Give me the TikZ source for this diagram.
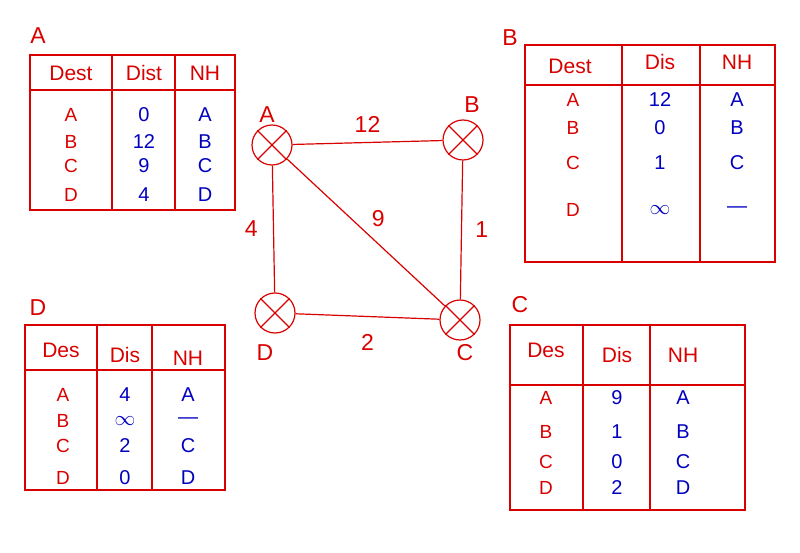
\documentclass[tikz,border=0pt]{standalone}
\usepackage{fontspec}
\setmainfont{Liberation Sans}
\begin{document}
\begin{tikzpicture}[x=1pt,y=-1pt,
  red/.style={draw=red!85!black,line width=1.2pt},
  rt/.style={circle,draw=red!85!black,line width=1.2pt,minimum size=40pt,inner sep=0pt},
  lab/.style={text=red!85!black,font=\fontsize{23}{25}\selectfont},
  hd/.style={text=red!85!black,font=\fontsize{21}{23}\selectfont},
  val/.style={text=blue!75!black,inner sep=0pt,font=\fontsize{20}{22}\selectfont},
  dst/.style={text=red!85!black,inner sep=0pt,font=\fontsize{19}{21}\selectfont}]
\useasboundingbox (0,0) rectangle (800,553);
% routers
\node[rt] (A) at (272,145) {};
\node[rt] (B) at (463,140) {};
\node[rt] (D) at (275,313) {};
\node[rt] (C) at (460,320) {};
\foreach \r in {A,B,C,D}{
  \draw[red] (\r.north west) -- (\r.south east);
  \draw[red] (\r.north east) -- (\r.south west);}
\draw[red] (A) -- (B) node[midway,above=6pt,lab]{12};
\draw[red] (B) -- (C) node[midway,right=10pt,lab]{1};
\draw[red] (A) -- (C) node[pos=0.5,above right=2pt,lab]{9};
\draw[red] (A) -- (D) node[midway,left=12pt,lab]{4};
\draw[red] (D) -- (C) node[midway,below=14pt,lab]{2};
\node[lab] (lA) at (267,115) {A};
\node[lab] (lB) at (472,105) {B};
\node[lab] (lD) at (265,353) {D};
\node[lab] (lC) at (465,353) {C};
% table A
\node[lab] (tA) at (38,36) {A};
\draw[red] (30,55) rectangle (235,210);
\draw[red] (30,90) -- (235,90);
\draw[red] (112,55) -- (112,210); \draw[red] (175,55) -- (175,210);
\node[hd] at (71,73) {Dest}; \node[hd] at (144,73) {Dist}; \node[hd] at (205,73) {NH};
\foreach \d/\v/\n/\y in {A/0/A/115,B/12/B/142,C/9/C/166,D/4/D/195}{
  \node[dst] at (71,\y) {\d}; \node[val] at (144,\y) {\v}; \node[val] at (205,\y) {\n};}
% table B
\node[lab] (tB) at (510,38) {B};
\draw[red] (525,45) rectangle (775,262);
\draw[red] (525,85) -- (775,85);
\draw[red] (622,45) -- (622,262); \draw[red] (700,45) -- (700,262);
\node[hd] at (570,66) {Dest}; \node[hd] at (660,62) {Dis}; \node[hd] at (737,62) {NH};
\foreach \d/\v/\n/\y in {A/12/A/100,B/0/B/128,C/1/C/163,D/$\infty$/---/210}{
  \node[dst] at (573,\y) {\d}; \node[val] at (660,\y) {\v}; \node[val] at (737,\y) {\n};}
% table D
\node[lab] (tD) at (38,308) {D};
\draw[red] (25,325) rectangle (225,490);
\draw[red] (25,370) -- (225,370);
\draw[red] (97,325) -- (97,490); \draw[red] (152,325) -- (152,490);
\node[hd] at (61,350) {Des}; \node[hd] at (125,355) {Dis}; \node[hd] at (188,358) {NH};
\foreach \d/\v/\n/\y in {A/4/A/395,B/$\infty$/---/421,C/2/C/446,D/0/D/478}{
  \node[dst] at (63,\y) {\d}; \node[val] at (125,\y) {\v}; \node[val] at (188,\y) {\n};}
% table C
\node[lab] (tC) at (520,305) {C};
\draw[red] (510,325) rectangle (745,510);
\draw[red] (510,385) -- (745,385);
\draw[red] (583,325) -- (583,510); \draw[red] (650,325) -- (650,510);
\node[hd] at (546,350) {Des}; \node[hd] at (617,355) {Dis}; \node[hd] at (683,355) {NH};
\foreach \d/\v/\n/\y in {A/9/A/398,B/1/B/432,C/0/C/462,D/2/D/488}{
  \node[dst] at (546,\y) {\d}; \node[val] at (617,\y) {\v}; \node[val] at (683,\y) {\n};}
\end{tikzpicture}
\end{document}
